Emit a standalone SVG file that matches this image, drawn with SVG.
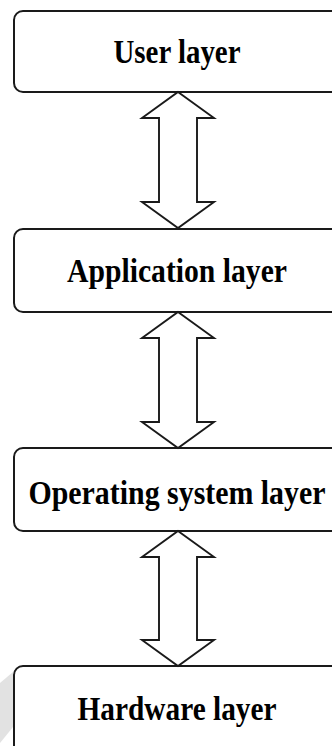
<svg xmlns="http://www.w3.org/2000/svg" width="332" height="746" viewBox="0 0 332 746">
  <style>
    .box { fill: #ffffff; stroke: #1a1a1a; stroke-width: 2; }
    .lbl { font-family: "Liberation Serif", "Times New Roman", serif; font-weight: bold; font-size: 29px; fill: #000000; text-anchor: middle; }
    .arrow { fill: #ffffff; stroke: #1a1a1a; stroke-width: 1.9; stroke-linejoin: miter; }
  </style>
  <rect width="332" height="746" fill="#ffffff"/>
  <!-- pale band at the lower left -->
  <polygon points="0,683 13,672 13,727 0,743" fill="#e2e2e2"/>

  <g id="user-layer">
    <rect class="box" x="14" y="11" width="330" height="81" rx="9"/>
    <text class="lbl" transform="translate(177,63) scale(1,1.17)" textLength="127" lengthAdjust="spacingAndGlyphs">User layer</text>
  </g>
  <g id="application-layer">
    <rect class="box" x="14" y="229" width="330" height="83" rx="9"/>
    <text class="lbl" transform="translate(177,282) scale(1,1.17)" textLength="220" lengthAdjust="spacingAndGlyphs">Application layer</text>
  </g>
  <g id="os-layer">
    <rect class="box" x="14" y="448" width="330" height="83" rx="9"/>
    <text class="lbl" transform="translate(177,504) scale(1,1.17)" textLength="297" lengthAdjust="spacingAndGlyphs">Operating system layer</text>
  </g>
  <g id="hardware-layer">
    <rect class="box" x="14" y="666" width="330" height="90" rx="9"/>
    <text class="lbl" transform="translate(177,720) scale(1,1.17)" textLength="199" lengthAdjust="spacingAndGlyphs">Hardware layer</text>
  </g>

  <g id="connectors">
    <polygon class="arrow" points="178,92 214,118 197,118 197,202 214,202 178,228 142,202 159,202 159,118 142,118"/>
    <polygon class="arrow" points="178,312 214,338 197,338 197,422 214,422 178,448 142,422 159,422 159,338 142,338"/>
    <polygon class="arrow" points="178,531 214,557 197,557 197,640 214,640 178,666 142,640 159,640 159,557 142,557"/>
  </g>
</svg>
